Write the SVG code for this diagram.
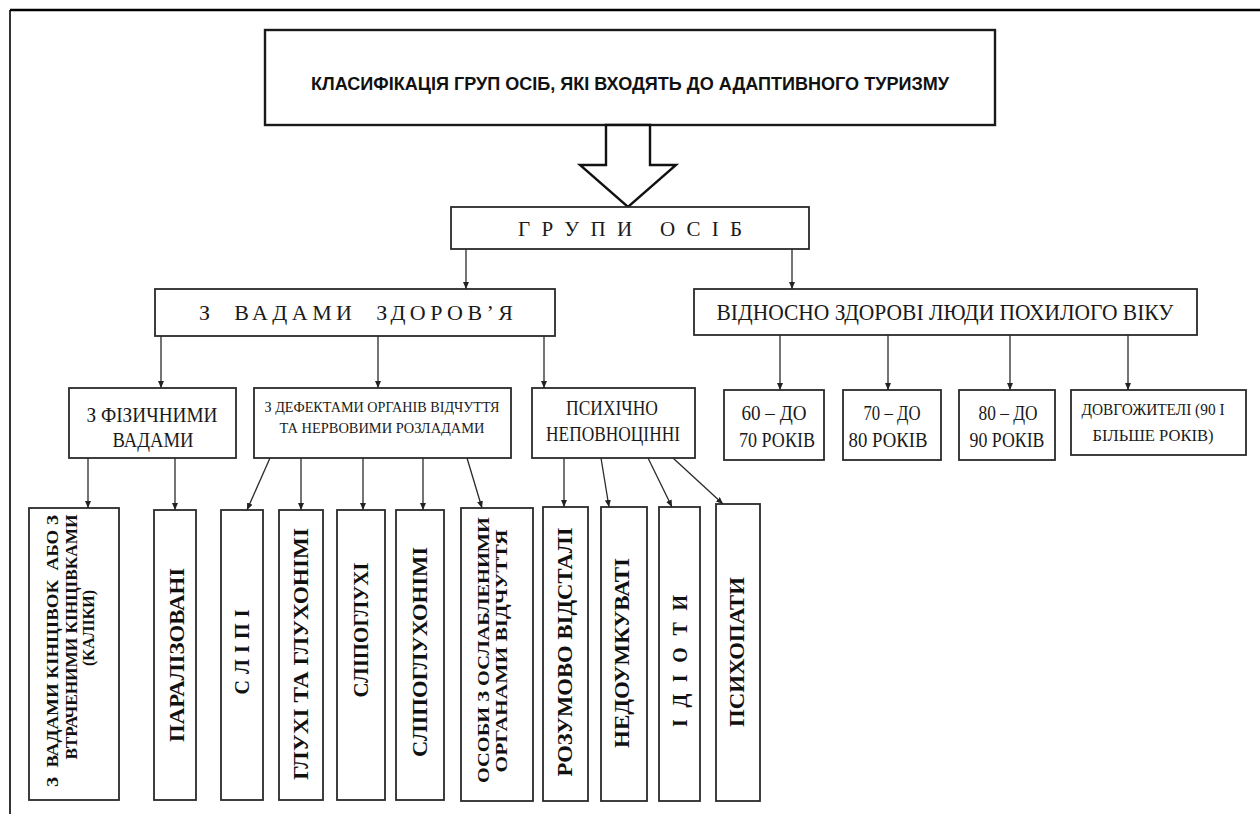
<svg xmlns="http://www.w3.org/2000/svg" width="1260" height="814" viewBox="0 0 1260 814">
<defs>
<marker id="ah" markerWidth="7" markerHeight="6" refX="7" refY="3" orient="auto" markerUnits="userSpaceOnUse">
<path d="M0,0 L7,3 L0,6 Z" fill="#222"/>
</marker>
<style>
.box{fill:#fff;stroke:#2a2a2a;stroke-width:1.8}
.top{fill:#fff;stroke:#1a1a1a;stroke-width:2.4}
.c{fill:none;stroke:#2a2a2a;stroke-width:1.3;marker-end:url(#ah)}
.t{font-family:"Liberation Serif","DejaVu Serif",serif;fill:#1a1a1a;text-anchor:middle}
.ts{font-family:"Liberation Sans","DejaVu Sans",sans-serif;font-weight:bold;fill:#111;text-anchor:middle}
.v{font-family:"Liberation Serif","DejaVu Serif",serif;font-weight:bold;fill:#111;text-anchor:middle}
</style>
</defs>
<rect width="1260" height="814" fill="#fff"/>
<g id="frame">
<line x1="10" y1="10" x2="1260" y2="10" stroke="#000" stroke-width="2.6"/>
<line x1="10" y1="10" x2="10" y2="814" stroke="#000" stroke-width="1.6"/>
</g>
<g id="n-title">
<rect class="top" x="265" y="30" width="730" height="95"/>
<text class="ts" x="630" y="90" font-size="18" textLength="638" lengthAdjust="spacingAndGlyphs">КЛАСИФІКАЦІЯ ГРУП ОСІБ, ЯКІ ВХОДЯТЬ ДО АДАПТИВНОГО ТУРИЗМУ</text>
</g>
<g id="n-arrow">
<path d="M606,125 L650,125 L650,165 L676,165 L628,207 L580,165 L606,165 Z" fill="#fff" stroke="#111" stroke-width="2.4" stroke-linejoin="miter"/>
</g>
<g id="n-groups">
<rect class="box" x="451" y="207" width="358" height="42"/>
<text class="t" x="630" y="236" font-size="21" textLength="224" lengthAdjust="spacing" xml:space="preserve">Г Р У П И   О С І Б</text>
</g>
<g id="n-health">
<rect class="box" x="155" y="289" width="400" height="47"/>
<text class="t" x="356" y="320" font-size="22" textLength="314" lengthAdjust="spacing" xml:space="preserve">З  ВАДАМИ  ЗДОРОВ’Я</text>
</g>
<g id="n-elderly">
<rect class="box" x="694" y="289" width="503" height="46"/>
<text class="t" x="945" y="320" font-size="23" textLength="457" lengthAdjust="spacingAndGlyphs">ВІДНОСНО ЗДОРОВІ ЛЮДИ ПОХИЛОГО ВІКУ</text>
</g>
<g id="n-phys">
<rect class="box" x="69" y="388" width="167" height="70"/>
<text class="t" x="152" y="422" font-size="20" textLength="131" lengthAdjust="spacingAndGlyphs">З ФІЗИЧНИМИ</text>
<text class="t" x="153" y="447" font-size="20" textLength="81" lengthAdjust="spacingAndGlyphs">ВАДАМИ</text>
</g>
<g id="n-senses">
<rect class="box" x="254" y="388" width="257" height="70"/>
<text class="t" x="382" y="412" font-size="15" textLength="235" lengthAdjust="spacingAndGlyphs">З ДЕФЕКТАМИ ОРГАНІВ ВІДЧУТТЯ</text>
<text class="t" x="382" y="433" font-size="15" textLength="205" lengthAdjust="spacingAndGlyphs">ТА НЕРВОВИМИ РОЗЛАДАМИ</text>
</g>
<g id="n-psych">
<rect class="box" x="532" y="388" width="163" height="70"/>
<text class="t" x="612" y="415" font-size="20" textLength="92" lengthAdjust="spacingAndGlyphs">ПСИХІЧНО</text>
<text class="t" x="613" y="441" font-size="20" textLength="134" lengthAdjust="spacingAndGlyphs">НЕПОВНОЦІННІ</text>
</g>
<g id="n-60">
<rect class="box" x="724" y="390" width="100" height="70"/>
<text class="t" x="774" y="420" font-size="20" textLength="65" lengthAdjust="spacingAndGlyphs">60 – ДО</text>
<text class="t" x="777" y="447" font-size="20" textLength="76" lengthAdjust="spacingAndGlyphs">70 РОКІВ</text>
</g>
<g id="n-70">
<rect class="box" x="843" y="390" width="98" height="70"/>
<text class="t" x="892" y="420" font-size="20" textLength="57" lengthAdjust="spacingAndGlyphs">70 – ДО</text>
<text class="t" x="888" y="447" font-size="20" textLength="79" lengthAdjust="spacingAndGlyphs">80 РОКІВ</text>
</g>
<g id="n-80">
<rect class="box" x="959" y="390" width="96" height="70"/>
<text class="t" x="1008" y="420" font-size="20" textLength="59" lengthAdjust="spacingAndGlyphs">80 – ДО</text>
<text class="t" x="1007" y="447" font-size="20" textLength="75" lengthAdjust="spacingAndGlyphs">90 РОКІВ</text>
</g>
<g id="n-long">
<rect class="box" x="1071" y="390" width="175" height="65"/>
<text class="t" x="1153" y="415" font-size="16" textLength="143" lengthAdjust="spacingAndGlyphs">ДОВГОЖИТЕЛІ (90 І</text>
<text class="t" x="1153" y="441" font-size="16" textLength="121" lengthAdjust="spacingAndGlyphs">БІЛЬШЕ РОКІВ)</text>
</g>
<g id="n-limbs">
<rect class="box" x="29" y="508" width="90" height="292"/>
<text class="v" transform="translate(58,651) rotate(-90)" font-size="16" textLength="272" lengthAdjust="spacingAndGlyphs" xml:space="preserve">З  ВАДАМИ КІНЦІВОК  АБО З</text>
<text class="v" transform="translate(77,637) rotate(-90)" font-size="16" textLength="245" lengthAdjust="spacingAndGlyphs">ВТРАЧЕНИМИ КІНЦІВКАМИ</text>
<text class="v" transform="translate(94,628) rotate(-90)" font-size="16">(КАЛІКИ)</text>
</g>
<g id="n-paral">
<rect class="box" x="154" y="510" width="42" height="290"/>
<text class="v" transform="translate(184,655) rotate(-90)" font-size="20" textLength="174" lengthAdjust="spacingAndGlyphs">ПАРАЛІЗОВАНІ</text>
</g>
<g id="n-blind">
<rect class="box" x="221" y="510" width="42" height="290"/>
<text class="v" transform="translate(249,652) rotate(-90)" font-size="20" textLength="85" lengthAdjust="spacing">С Л І П І</text>
</g>
<g id="n-deaf">
<rect class="box" x="279" y="510" width="44" height="290"/>
<text class="v" transform="translate(308,654) rotate(-90)" font-size="20" textLength="252" lengthAdjust="spacingAndGlyphs">ГЛУХІ ТА ГЛУХОНІМІ</text>
</g>
<g id="n-blinddeaf">
<rect class="box" x="337" y="510" width="48" height="290"/>
<text class="v" transform="translate(368,630) rotate(-90)" font-size="20" textLength="135" lengthAdjust="spacingAndGlyphs">СЛІПОГЛУХІ</text>
</g>
<g id="n-blinddeafmute">
<rect class="box" x="396" y="510" width="48" height="290"/>
<text class="v" transform="translate(427,652) rotate(-90)" font-size="20" textLength="210" lengthAdjust="spacingAndGlyphs">СЛІПОГЛУХОНІМІ</text>
</g>
<g id="n-weak">
<rect class="box" x="461" y="508" width="72" height="293"/>
<text class="v" transform="translate(489,650) rotate(-90)" font-size="17" textLength="266" lengthAdjust="spacingAndGlyphs">ОСОБИ З ОСЛАБЛЕНИМИ</text>
<text class="v" transform="translate(507,651) rotate(-90)" font-size="17" textLength="243" lengthAdjust="spacingAndGlyphs">ОРГАНАМИ ВІДЧУТТЯ</text>
</g>
<g id="n-retard">
<rect class="box" x="543" y="507" width="45" height="294"/>
<text class="v" transform="translate(572,652) rotate(-90)" font-size="20" textLength="249" lengthAdjust="spacingAndGlyphs">РОЗУМОВО ВІДСТАЛІ</text>
</g>
<g id="n-dull">
<rect class="box" x="601" y="507" width="46" height="294"/>
<text class="v" transform="translate(629,653) rotate(-90)" font-size="20" textLength="190" lengthAdjust="spacingAndGlyphs">НЕДОУМКУВАТІ</text>
</g>
<g id="n-idiots">
<rect class="box" x="659" y="507" width="41" height="294"/>
<text class="v" transform="translate(687,661) rotate(-90)" font-size="20" textLength="132" lengthAdjust="spacing">І Д І О Т И</text>
</g>
<g id="n-psychopaths">
<rect class="box" x="716" y="504" width="44" height="297"/>
<text class="v" transform="translate(744,652) rotate(-90)" font-size="20" textLength="150" lengthAdjust="spacingAndGlyphs">ПСИХОПАТИ</text>
</g>
<g id="connectors">
<line class="c" x1="466" y1="249" x2="466" y2="289"/>
<line class="c" x1="792" y1="249" x2="792" y2="289"/>
<line class="c" x1="161" y1="336" x2="161" y2="388"/>
<line class="c" x1="378" y1="336" x2="378" y2="388"/>
<line class="c" x1="544" y1="336" x2="544" y2="388"/>
<line class="c" x1="780" y1="335" x2="780" y2="390"/>
<line class="c" x1="888" y1="335" x2="888" y2="390"/>
<line class="c" x1="1010" y1="335" x2="1010" y2="390"/>
<line class="c" x1="1128" y1="335" x2="1128" y2="390"/>
<line class="c" x1="88" y1="458" x2="88" y2="508"/>
<line class="c" x1="175" y1="458" x2="175" y2="510"/>
<line class="c" x1="270" y1="458" x2="247" y2="510"/>
<line class="c" x1="301" y1="458" x2="301" y2="510"/>
<line class="c" x1="363" y1="458" x2="363" y2="510"/>
<line class="c" x1="423" y1="458" x2="423" y2="510"/>
<line class="c" x1="467" y1="458" x2="482" y2="508"/>
<line class="c" x1="564" y1="458" x2="564" y2="507"/>
<line class="c" x1="601" y1="458" x2="609" y2="507"/>
<line class="c" x1="648" y1="458" x2="672" y2="507"/>
<line class="c" x1="673" y1="458" x2="723" y2="504"/>
</g>
</svg>
